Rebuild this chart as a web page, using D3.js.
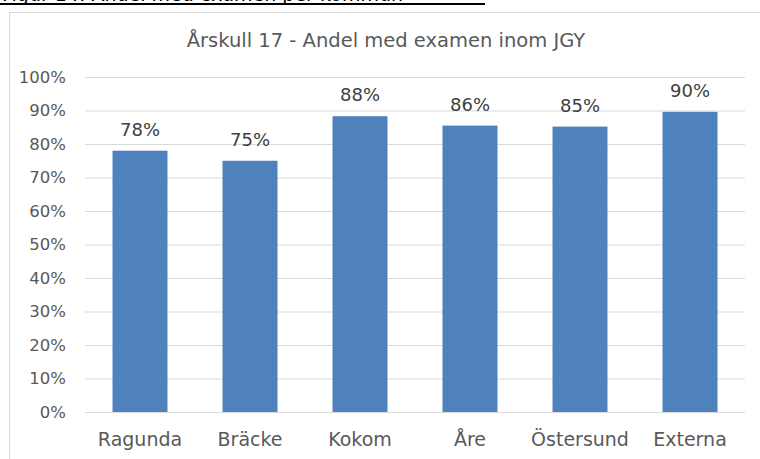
<!DOCTYPE html>
<html>
<head>
<meta charset="utf-8">
<script src="https://cdn.jsdelivr.net/npm/d3@7"></script>
<style>
  body { margin: 0; background: #fff; }
  text { font-family: "DejaVu Sans", sans-serif; }
</style>
</head>
<body>
<div id="chart"></div>
<script>
// data
const categories = ["Ragunda", "Bräcke", "Kokom", "Åre", "Östersund", "Externa"];
const values = [0.78, 0.75, 0.883, 0.855, 0.852, 0.896];
const valueLabels = ["78%", "75%", "88%", "86%", "85%", "90%"];
const yTicks = [0, 0.1, 0.2, 0.3, 0.4, 0.5, 0.6, 0.7, 0.8, 0.9, 1.0];

const width = 760, height = 459;
const margin = { top: 77, right: 15, bottom: 47, left: 85 };
const innerWidth = width - margin.left - margin.right;
const innerHeight = height - margin.top - margin.bottom;
const font = "'DejaVu Sans', sans-serif";

const svg = d3.select("#chart").append("svg")
  .attr("width", width)
  .attr("height", height);

// caption cut off at the top
svg.append("text")
  .attr("x", 2).attr("y", 1)
  .style("font-size", "19px")
  .attr("fill", "#000")
  .text("Figur 14: Andel med examen per kommun");
svg.append("line")
  .attr("x1", 0).attr("x2", 485).attr("y1", 4).attr("y2", 4)
  .attr("stroke", "#000").attr("stroke-width", 2);

// chart frame
svg.append("rect")
  .attr("x", 9.5).attr("y", 12.5)
  .attr("width", 800).attr("height", 500)
  .attr("fill", "none")
  .attr("stroke", "#d9d9d9");

// title
svg.append("text")
  .attr("x", 386).attr("y", 47)
  .attr("text-anchor", "middle")
  .attr("fill", "#595959")
  .style("font-size", "19.5px")
  .text("Årskull 17 - Andel med examen inom JGY");

const g = svg.append("g").attr("transform", `translate(${margin.left},${margin.top})`);

const x = d3.scaleBand().domain(categories).range([0, innerWidth]).paddingInner(0.5).paddingOuter(0.25);
const y = d3.scaleLinear().domain([0, 1]).range([innerHeight, 0]);

// gridlines
g.append("g")
  .call(d3.axisLeft(y).tickValues(yTicks).tickSize(-innerWidth).tickFormat(""))
  .call(a => a.select(".domain").remove())
  .call(a => a.selectAll("line").attr("stroke", "#d9d9d9"));

// y labels
g.append("g")
  .call(d3.axisLeft(y).tickValues(yTicks).tickSize(0).tickPadding(19).tickFormat(d3.format(".0%")))
  .call(a => a.select(".domain").remove())
  .call(a => a.selectAll("text")
    .attr("fill", "#595959")
    .style("font-size", "16.5px")
    .style("font-family", font));

// bars
g.selectAll("rect.bar")
  .data(categories)
  .enter().append("rect")
  .attr("class", "bar")
  .attr("x", d => x(d))
  .attr("width", x.bandwidth())
  .attr("y", (d, i) => y(values[i]))
  .attr("height", (d, i) => innerHeight - y(values[i]))
  .attr("fill", "#4f81bd");

// value labels
g.selectAll("text.val")
  .data(categories)
  .enter().append("text")
  .attr("class", "val")
  .attr("x", d => x(d) + x.bandwidth() / 2)
  .attr("y", (d, i) => y(values[i]) - 15)
  .attr("text-anchor", "middle")
  .attr("fill", "#404040")
  .style("font-size", "18px")
  .text((d, i) => valueLabels[i]);

// x labels
g.append("g")
  .attr("transform", `translate(0,${innerHeight})`)
  .call(d3.axisBottom(x).tickSize(0).tickPadding(21))
  .call(a => a.select(".domain").remove())
  .call(a => a.selectAll("text")
    .attr("fill", "#595959")
    .style("font-size", "19px")
    .style("font-family", font));
</script>
</body>
</html>
